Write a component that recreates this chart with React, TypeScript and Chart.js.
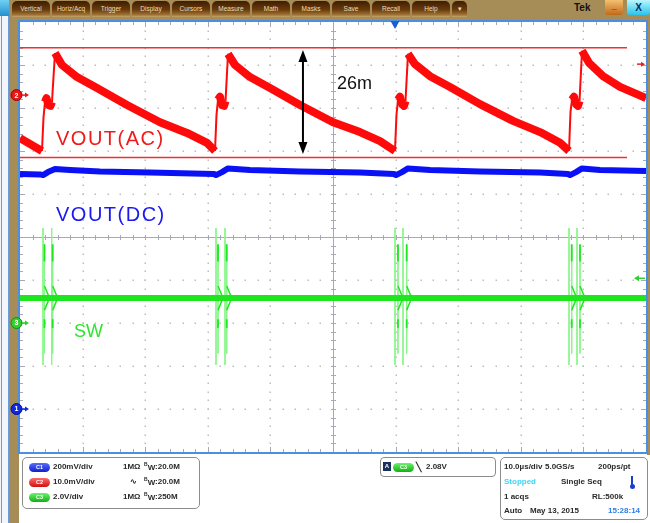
import React, { useEffect, useRef } from "react";
import { Chart, registerables } from "chart.js";
Chart.register(...registerables);

// ---- axes (10 divisions each) ----
const timeMin = 0; // µs
const timeMax = 100; // µs (10 µs/div)
const ch2Min = -83; // mV (10 mV/div)
const ch2Max = 17;
const ch1Min = -0.2; // V (200 mV/div)
const ch1Max = 1.8;
const ch3Min = -6; // V (2 V/div)
const ch3Max = 14;

// ---- CH2 : VOUT(AC) (mV) ----
const redT = [0, 3.51, 3.75, 3.99, 4.23, 4.55, 4.87, 5.11, 5.59, 6.71, 9.11, 12.3, 17.09, 22.36, 26.68, 29.87,
  31.15, 31.39, 31.63, 31.95, 32.27, 32.59, 32.83, 33.23, 34.35, 36.74, 39.94, 44.73, 50.0, 54.31, 57.51,
  59.9, 60.14, 60.38, 60.7, 61.02, 61.34, 61.58, 61.98, 63.1, 65.5, 68.69, 73.48, 78.75, 83.07, 86.26,
  87.7, 87.94, 88.18, 88.5, 88.82, 89.14, 89.38, 89.78, 90.89, 93.13, 95.85, 100];
const redV = [-10.0, -13.0, -5.3, -1.6, -0.7, -2.3, -2.5, -1.6, 9.8, 7.0, 4.2, 1.65, -2.3, -6.3, -8.8, -11.1,
  -13.0, -4.6, -1.1, -0.4, -2.3, -2.5, -1.4, 9.6, 7.0, 4.2, 1.65, -2.3, -6.3, -8.6, -10.7,
  -13.0, -4.6, -1.1, -0.4, -2.1, -2.5, -1.4, 9.6, 7.2, 4.4, 1.9, -2.1, -6.0, -8.6, -11.1,
  -13.0, -3.9, -1.1, -0.4, -2.1, -2.5, -1.4, 10.3, 7.5, 4.4, 1.9, -0.7];

// ---- CH1 : VOUT(DC) (V) ----
const blueT = [0, 3.19, 3.67, 4.47, 5.59, 7.99, 12.78, 20.77, 30.99, 31.31, 32.27, 33.23, 36.74, 44.73, 54.31,
  59.74, 60.06, 61.02, 61.98, 65.5, 73.48, 83.07, 87.54, 87.86, 88.82, 89.78, 92.65, 100];
const blueV = [1.093, 1.091, 1.088, 1.102, 1.116, 1.112, 1.105, 1.1, 1.093, 1.088, 1.102, 1.119, 1.112, 1.105, 1.1,
  1.093, 1.088, 1.102, 1.119, 1.112, 1.105, 1.1, 1.093, 1.088, 1.102, 1.119, 1.112, 1.107];

// ---- CH3 : SW (V) ----
const swT = [0, 100];
const swV = [1.16, 1.16];
const spikeT = [3.67, 3.91, 5.06, 5.22, 31.31, 31.63, 32.75, 33.02, 59.9, 60.38, 61.18, 61.77, 87.7, 88.13, 88.98, 89.46];
const spikeTop = [4.42, 3.63, 4.42, 3.63, 4.42, 3.63, 4.42, 3.63, 4.42, 3.63, 4.42, 3.63, 4.42, 3.63, 4.42, 3.63];
const spikeBottom = [-1.95, -1.42, -1.95, -1.42, -1.95, -1.42, -1.95, -1.42, -1.95, -1.42, -1.95, -1.42, -1.95, -1.42, -1.95, -1.42];
const ringTop = 1.72;
const ringBottom = 0.6;
const ringDecay = 0.8; // µs
const denseHigh = [3.63, 2.9];
const denseLow = [0.14, -0.2];

// ---- annotations ----
const cursorTop = 11.0; // mV
const cursorBottom = -14.5; // mV
const cursorEnd = 96.96; // µs
const arrowT = 45.2;
const arrowTop = 10.5;
const arrowBottom = -13.7;
const trigLevel = 2.08; // V on CH3
const trigTime = 59.9; // µs
const ch2RightMark = 7.2; // mV

const xy = (t: number[], v: number[]) => t.map((x, i) => ({ x, y: v[i] }));

const scopePlugin = {
  id: "scope",
  beforeDatasetsDraw(chart: any) {
    const { ctx, chartArea: a } = chart;
    const w = a.right - a.left;
    const h = a.bottom - a.top;
    const dx = w / 10;
    const dy = h / 10;
    ctx.save();
    ctx.fillStyle = "#ffffff";
    ctx.fillRect(a.left, a.top, w, h);
    // dotted graticule
    ctx.fillStyle = "#bdbdbd";
    for (let i = 1; i < 10; i++) {
      if (i === 5) continue;
      const x = Math.round(a.left + i * dx);
      for (let j = 1; j < 50; j++) ctx.fillRect(x - 0.5, Math.round(a.top + (j * dy) / 5) - 0.5, 1.5, 1.5);
      const y = Math.round(a.top + i * dy);
      for (let j = 1; j < 50; j++) ctx.fillRect(Math.round(a.left + (j * dx) / 5) - 0.5, y - 0.5, 1.5, 1.5);
    }
    // centre cross with minor ticks
    const cx = Math.round(a.left + 5 * dx) + 0.5;
    const cy = Math.round(a.top + 5 * dy) + 0.5;
    ctx.strokeStyle = "#9a9ab2";
    ctx.lineWidth = 1;
    ctx.beginPath();
    ctx.moveTo(a.left, cy);
    ctx.lineTo(a.right, cy);
    ctx.moveTo(cx, a.top);
    ctx.lineTo(cx, a.bottom);
    for (let j = 1; j < 50; j++) {
      const x = Math.round(a.left + (j * dx) / 5) + 0.5;
      ctx.moveTo(x, cy - 2.5);
      ctx.lineTo(x, cy + 2.5);
      const y = Math.round(a.top + (j * dy) / 5) + 0.5;
      ctx.moveTo(cx - 2.5, y);
      ctx.lineTo(cx + 2.5, y);
    }
    // edge ticks
    ctx.strokeStyle = "#a8a8b8";
    for (let j = 1; j < 50; j++) {
      const L = j % 5 === 0 ? 5 : 3;
      const x = Math.round(a.left + (j * dx) / 5) + 0.5;
      ctx.moveTo(x, a.top);
      ctx.lineTo(x, a.top + L);
      ctx.moveTo(x, a.bottom);
      ctx.lineTo(x, a.bottom - L);
      const y = Math.round(a.top + (j * dy) / 5) + 0.5;
      ctx.moveTo(a.left, y);
      ctx.lineTo(a.left + L, y);
      ctx.moveTo(a.right, y);
      ctx.lineTo(a.right - L, y);
    }
    ctx.stroke();
    ctx.restore();
  },
  afterDatasetsDraw(chart: any) {
    const { ctx, chartArea: a, scales } = chart;
    ctx.save();
    // double arrow (26 mV)
    const ax = scales.x.getPixelForValue(arrowT);
    const ay1 = scales.yR.getPixelForValue(arrowTop);
    const ay2 = scales.yR.getPixelForValue(arrowBottom);
    ctx.strokeStyle = "#000";
    ctx.fillStyle = "#000";
    ctx.lineWidth = 2;
    ctx.beginPath();
    ctx.moveTo(ax, ay1 + 8);
    ctx.lineTo(ax, ay2 - 8);
    ctx.stroke();
    ctx.beginPath();
    ctx.moveTo(ax, ay1);
    ctx.lineTo(ax - 4.5, ay1 + 12);
    ctx.lineTo(ax + 4.5, ay1 + 12);
    ctx.closePath();
    ctx.moveTo(ax, ay2);
    ctx.lineTo(ax - 4.5, ay2 - 12);
    ctx.lineTo(ax + 4.5, ay2 - 12);
    ctx.closePath();
    ctx.fill();

    // plot frame
    ctx.strokeStyle = "#4a8fe0";
    ctx.lineWidth = 2;
    ctx.strokeRect(a.left - 1, a.top - 1, a.right - a.left + 2, a.bottom - a.top + 2);

    // trigger position marker (top)
    const tx = scales.x.getPixelForValue(trigTime);
    ctx.fillStyle = "#1a5fd6";
    ctx.beginPath();
    ctx.moveTo(tx - 4.5, a.top - 1);
    ctx.lineTo(tx + 4.5, a.top - 1);
    ctx.lineTo(tx, a.top + 7);
    ctx.closePath();
    ctx.fill();

    // channel ground markers (left)
    const marks = [
      { y: scales.yR.getPixelForValue(0), c: "#e81818", e: "#a00000", n: "2" },
      { y: scales.yG.getPixelForValue(0), c: "#30d030", e: "#109010", n: "3" },
      { y: scales.yB.getPixelForValue(0), c: "#1028e0", e: "#001090", n: "1" },
    ];
    for (const m of marks) {
      ctx.fillStyle = m.c;
      ctx.strokeStyle = m.e;
      ctx.lineWidth = 1;
      ctx.beginPath();
      ctx.arc(16.5, m.y, 5.5, 0, Math.PI * 2);
      ctx.fill();
      ctx.stroke();
      ctx.fillStyle = "#fff";
      ctx.font = "bold 7px 'Liberation Sans', Arial";
      ctx.textAlign = "center";
      ctx.textBaseline = "middle";
      ctx.fillText(m.n, 16.5, m.y + 0.5);
      ctx.strokeStyle = m.c;
      ctx.lineWidth = 1.5;
      ctx.beginPath();
      ctx.moveTo(22, m.y);
      ctx.lineTo(26, m.y);
      ctx.stroke();
      ctx.fillStyle = m.c;
      ctx.beginPath();
      ctx.moveTo(25, m.y - 2.5);
      ctx.lineTo(29, m.y);
      ctx.lineTo(25, m.y + 2.5);
      ctx.closePath();
      ctx.fill();
    }
    // right markers
    const ry = scales.yR.getPixelForValue(ch2RightMark);
    ctx.strokeStyle = "#e82020";
    ctx.fillStyle = "#e82020";
    ctx.lineWidth = 1.5;
    ctx.beginPath();
    ctx.moveTo(637, ry);
    ctx.lineTo(642, ry);
    ctx.stroke();
    ctx.beginPath();
    ctx.moveTo(641, ry - 2.5);
    ctx.lineTo(645, ry);
    ctx.lineTo(641, ry + 2.5);
    ctx.closePath();
    ctx.fill();
    const gy = scales.yG.getPixelForValue(trigLevel);
    ctx.strokeStyle = "#30d030";
    ctx.fillStyle = "#30d030";
    ctx.beginPath();
    ctx.moveTo(639, gy);
    ctx.lineTo(645, gy);
    ctx.stroke();
    ctx.beginPath();
    ctx.moveTo(639, gy - 3);
    ctx.lineTo(634, gy);
    ctx.lineTo(639, gy + 3);
    ctx.closePath();
    ctx.fill();
    ctx.restore();
  },
};

const tabs = [
  ["Vertical", 12, 38],
  ["Horiz/Acq", 52, 38],
  ["Trigger", 92, 38],
  ["Display", 132, 38],
  ["Cursors", 172, 38],
  ["Measure", 212, 38],
  ["Math", 252, 38],
  ["Masks", 292, 38],
  ["Save", 332, 38],
  ["Recall", 372, 38],
  ["Help", 412, 38],
  ["▾", 452, 15],
] as const;

const GOLD = "#a68d57";

function T(props: { x: number; y: number; c?: string; s?: number; children: React.ReactNode }) {
  return (
    <span
      style={{
        position: "absolute",
        left: props.x,
        top: props.y - 5,
        lineHeight: "10px",
        fontSize: props.s ?? 8,
        fontWeight: "bold",
        color: props.c ?? "#2a2a2a",
        whiteSpace: "nowrap",
      }}
    >
      {props.children}
    </span>
  );
}

function Pill(props: { x: number; y: number; c1: string; c2: string; label: string }) {
  return (
    <div
      style={{
        position: "absolute",
        left: props.x,
        top: props.y - 4.5,
        width: 21,
        height: 9,
        borderRadius: 5,
        background: `linear-gradient(${props.c1}, ${props.c2})`,
        color: "#fff",
        fontSize: 5.5,
        fontWeight: "bold",
        lineHeight: "9px",
        textAlign: "center",
      }}
    >
      {props.label}
    </div>
  );
}

function BW(props: { x: number; y: number; v: string }) {
  return (
    <span
      style={{
        position: "absolute",
        left: props.x,
        top: props.y - 5,
        lineHeight: "10px",
        fontSize: 8,
        fontWeight: "bold",
        color: "#2a2a2a",
        whiteSpace: "nowrap",
      }}
    >
      <span style={{ fontSize: 5, position: "relative", top: -3 }}>B</span>
      <span style={{ position: "relative", top: 1 }}>W</span>:{props.v}
    </span>
  );
}

export default function App() {
  const ref = useRef<HTMLCanvasElement>(null);
  useEffect(() => {
    const spikeData: any[] = [];
    spikeT.forEach((t, i) => {
      spikeData.push({ x: t, y: spikeTop[i] }, { x: t, y: spikeBottom[i] }, { x: t, y: null });
    });
    const ringData: any[] = [];
    const denseData: any[] = [];
    spikeT.forEach((t, i) => {
      if (i % 2 === 1) {
        ringData.push({ x: t, y: ringTop }, { x: t + ringDecay, y: swV[0] }, { x: t, y: ringBottom }, { x: t, y: null });
        denseData.push(
          { x: t, y: denseHigh[0] },
          { x: t, y: denseHigh[1] },
          { x: t, y: null },
          { x: t, y: denseLow[0] },
          { x: t, y: denseLow[1] },
          { x: t, y: null }
        );
      }
    });
    const base = { pointRadius: 0, tension: 0, fill: false, xAxisID: "x", spanGaps: false, borderJoinStyle: "round" as const };
    const chart = new Chart(ref.current!, {
      type: "line",
      data: {
        datasets: [
          {
            ...base,
            label: "VOUT(AC)",
            yAxisID: "yR",
            data: xy(redT, redV),
            borderColor: "#ff0a0a",
            borderWidth: 8,
            segment: {
              borderWidth: (c: any) =>
                Math.abs(c.p1.x - c.p0.x) < 4 && Math.abs(c.p1.y - c.p0.y) > 12 ? 2 : undefined,
            },
          } as any,
          {
            ...base,
            label: "VOUT(DC)",
            yAxisID: "yB",
            data: xy(blueT, blueV),
            borderColor: "#0a12f5",
            borderWidth: 6,
          },
          {
            ...base,
            label: "SW",
            yAxisID: "yG",
            data: xy(swT, swV),
            borderColor: "#1ee61e",
            borderWidth: 6,
          },
          {
            ...base,
            label: "SW ring",
            yAxisID: "yG",
            data: ringData,
            borderColor: "#1ee61e",
            borderWidth: 1.5,
          },
          {
            ...base,
            label: "SW dense",
            yAxisID: "yG",
            data: denseData,
            borderColor: "#22e622",
            borderWidth: 1.8,
          },
          {
            ...base,
            label: "SW spikes",
            yAxisID: "yG",
            data: spikeData,
            borderColor: "#8af58a",
            borderWidth: 1,
          },
          {
            ...base,
            label: "cursor top",
            yAxisID: "yR",
            data: [
              { x: timeMin, y: cursorTop },
              { x: cursorEnd, y: cursorTop },
            ],
            borderColor: "#f03030",
            borderWidth: 1.5,
          },
          {
            ...base,
            label: "cursor bottom",
            yAxisID: "yR",
            data: [
              { x: timeMin, y: cursorBottom },
              { x: cursorEnd, y: cursorBottom },
            ],
            borderColor: "#f03030",
            borderWidth: 1.5,
          },
        ],
      },
      options: {
        animation: false,
        responsive: false,
        maintainAspectRatio: false,
        devicePixelRatio: 1,
        events: [],
        layout: { padding: { left: 20, right: 4, top: 22, bottom: 71 } },
        plugins: { legend: { display: false }, tooltip: { enabled: false } },
        scales: {
          x: { type: "linear", min: timeMin, max: timeMax, display: false },
          yR: { type: "linear", min: ch2Min, max: ch2Max, display: false },
          yB: { type: "linear", min: ch1Min, max: ch1Max, display: false },
          yG: { type: "linear", min: ch3Min, max: ch3Max, display: false },
        },
      },
      plugins: [scopePlugin],
    });
    return () => chart.destroy();
  }, []);

  const lbl = (x: number, top: number, size: number, color: string, text: string, spacing = 0) => (
    <span
      style={{
        position: "absolute",
        left: x,
        top,
        fontSize: size,
        lineHeight: `${size}px`,
        letterSpacing: spacing,
        color,
        whiteSpace: "nowrap",
        fontFamily: "'Liberation Sans', Arial, sans-serif",
      }}
    >
      {text}
    </span>
  );

  return (
    <div
      style={{
        position: "absolute",
        left: 0,
        top: 0,
        width: 650,
        height: 523,
        background: "#fff",
        overflow: "hidden",
        fontFamily: "'Liberation Sans', Arial, sans-serif",
      }}
    >
      {/* window behind at far left */}
      <div style={{ position: "absolute", left: 0, top: 0, width: 10, height: 523, background: "#f2f5fa" }} />
      <div style={{ position: "absolute", left: 1, top: 0, width: 1, height: 523, background: "#6a9ae0" }} />
      <div style={{ position: "absolute", left: 8, top: 0, width: 1, height: 523, background: "#6a9ae0" }} />
      <div style={{ position: "absolute", left: 0, top: 0, width: 9, height: 16, background: "linear-gradient(#70d0f4,#2590d0)" }} />
      {/* gold frame */}
      <div style={{ position: "absolute", left: 9, top: 0, width: 10, height: 523, background: GOLD }} />
      <div style={{ position: "absolute", left: 9, top: 0, width: 641, height: 20, background: GOLD }} />
      <div style={{ position: "absolute", left: 647, top: 0, width: 3, height: 455, background: GOLD }} />
      {tabs.map(([name, x, w]) => (
        <div
          key={name}
          style={{
            position: "absolute",
            left: x,
            top: 1,
            width: w,
            height: 16,
            borderRadius: "5px 5px 0 0",
            background: "linear-gradient(#3e1d02 0%, #6a3c0c 55%, #9c7034 85%, #c8a66a 100%)",
            color: "#f0ddb2",
            fontSize: 6.5,
            lineHeight: "15px",
            textAlign: "center",
            whiteSpace: "nowrap",
          }}
        >
          {name}
        </div>
      ))}
      <span style={{ position: "absolute", left: 574, top: 2, fontSize: 10, lineHeight: "12px", fontWeight: "bold", color: "#111" }}>Tek</span>
      <div
        style={{
          position: "absolute",
          left: 605,
          top: 0,
          width: 18,
          height: 15,
          borderRadius: "0 0 3px 3px",
          background: "linear-gradient(#f4c070,#c06a1a)",
          color: "#3a1a00",
          fontSize: 9,
          fontWeight: "bold",
          lineHeight: "12px",
          textAlign: "center",
        }}
      >
        _
      </div>
      <div
        style={{
          position: "absolute",
          left: 627,
          top: 0,
          width: 23,
          height: 15,
          borderRadius: "0 0 3px 3px",
          background: "linear-gradient(#b8f6ff,#28c4ea)",
          color: "#0c2a6a",
          fontSize: 10,
          fontWeight: "bold",
          lineHeight: "15px",
          textAlign: "center",
        }}
      >
        X
      </div>

      <canvas ref={ref} width={650} height={523} style={{ position: "absolute", left: 0, top: 0, width: 650, height: 523 }} />

      {/* waveform labels */}
      {lbl(337, 74, 18, "#111", "26m")}
      {lbl(56, 128, 20, "#f01a1a", "VOUT(AC)", 1.5)}
      {lbl(56, 204, 20, "#1a1af0", "VOUT(DC)", 1.5)}
      {lbl(74, 322, 18, "#2ee62e", "SW")}

      {/* channel box */}
      <div style={{ position: "absolute", left: 22, top: 457, width: 176, height: 50, border: "1.5px solid #8c8c8c", borderRadius: 5 }} />
      <Pill x={29} y={467} c1="#5a6cff" c2="#1020c8" label="C1" />
      <Pill x={29} y={482} c1="#ff6a6a" c2="#d01010" label="C2" />
      <Pill x={29} y={497} c1="#70f070" c2="#10b010" label="C3" />
      <T x={53} y={467}>200mV/div</T>
      <T x={53} y={482}>10.0mV/div</T>
      <T x={53} y={497}>2.0V/div</T>
      <T x={123} y={467}>1MΩ</T>
      <T x={130} y={482}>∿</T>
      <T x={123} y={497}>1MΩ</T>
      <BW x={144} y={467} v="20.0M" />
      <BW x={144} y={482} v="20.0M" />
      <BW x={144} y={497} v="250M" />

      {/* trigger box */}
      <div style={{ position: "absolute", left: 380, top: 457, width: 114, height: 18, border: "1.5px solid #8c8c8c", borderRadius: 4 }} />
      <div
        style={{
          position: "absolute",
          left: 383,
          top: 462,
          width: 8,
          height: 9,
          background: "#1c2e5a",
          color: "#fff",
          fontSize: 6,
          fontWeight: "bold",
          lineHeight: "9px",
          textAlign: "center",
        }}
      >
        A
      </div>
      <Pill x={393} y={467} c1="#70f070" c2="#10b010" label="C3" />
      <T x={416} y={467} s={9}>╲</T>
      <T x={426} y={467}>2.08V</T>

      {/* acquisition box */}
      <div style={{ position: "absolute", left: 500, top: 457, width: 146, height: 61, border: "1.5px solid #8c8c8c", borderRadius: 5 }} />
      <T x={504} y={467}>10.0µs/div</T>
      <T x={545} y={467}>5.0GS/s</T>
      <T x={598} y={467}>200ps/pt</T>
      <T x={504} y={482} c="#3cd6f4">Stopped</T>
      <T x={561} y={482}>Single Seq</T>
      <div style={{ position: "absolute", left: 631, top: 476, width: 2, height: 9, background: "#1840d0" }} />
      <div style={{ position: "absolute", left: 629.5, top: 484, width: 5, height: 5, borderRadius: 3, background: "#1840d0" }} />
      <T x={504} y={497}>1 acqs</T>
      <T x={592} y={497}>RL:500k</T>
      <T x={504} y={511}>Auto</T>
      <T x={530} y={511}>May 13, 2015</T>
      <T x={608} y={511} c="#2f7fe6">15:28:14</T>
    </div>
  );
}
